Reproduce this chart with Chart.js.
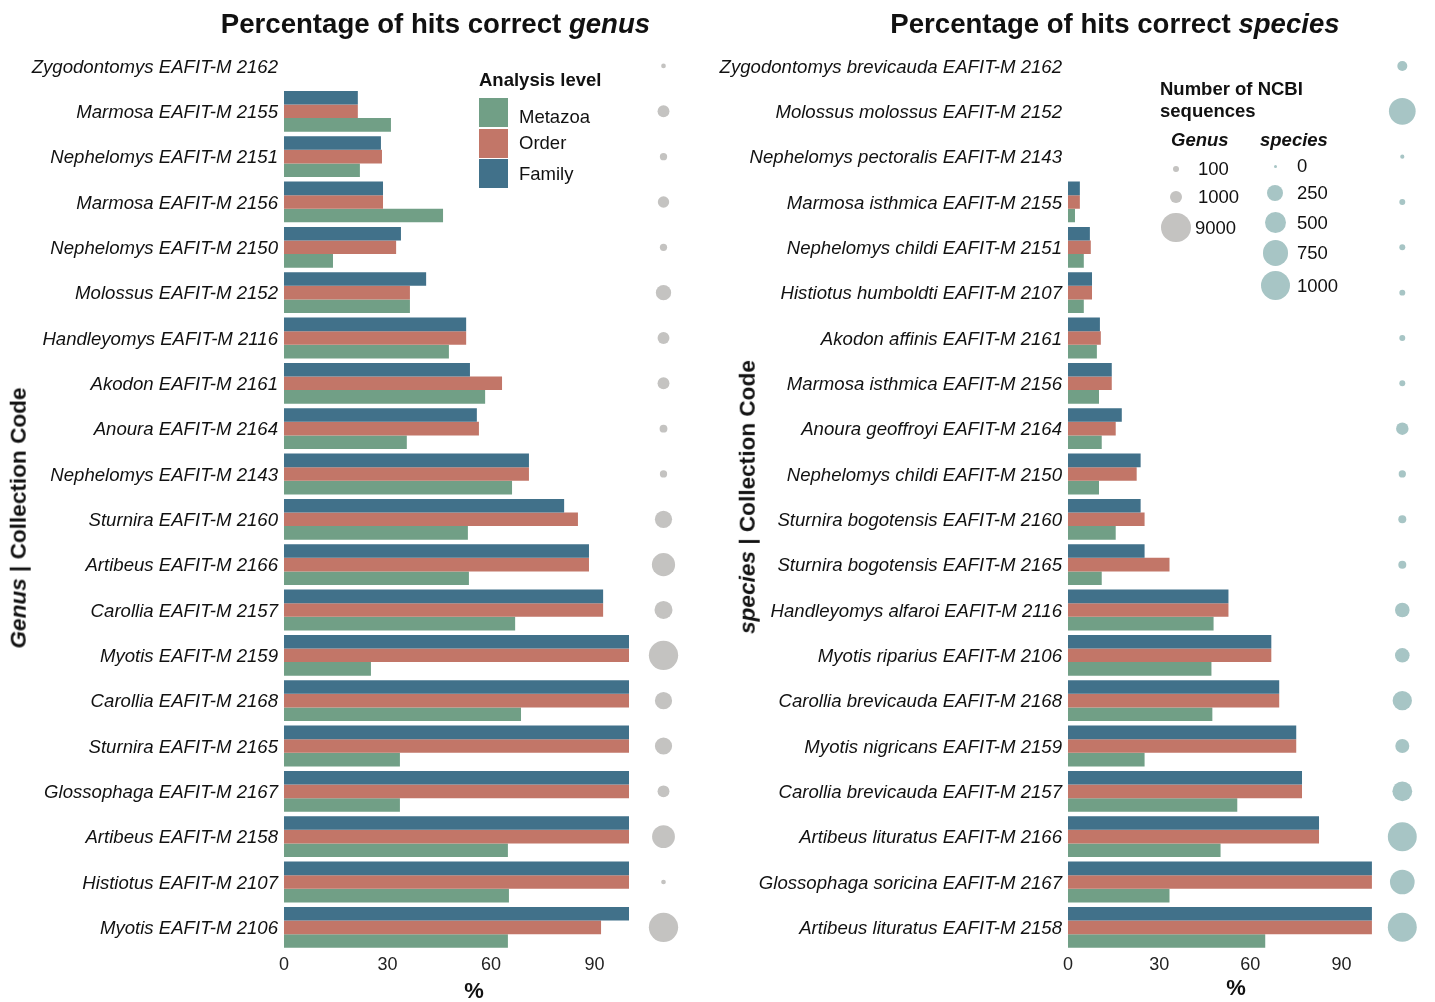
<!DOCTYPE html>
<html>
<head>
<meta charset="utf-8">
<title>Percentage of hits correct</title>
<script src="https://cdn.jsdelivr.net/npm/chart.js@4"></script>
<style>
  html, body { margin: 0; padding: 0; background: #fff; }
  #wrap { position: relative; width: 1435px; height: 1002px; overflow: hidden;
          font-family: "Liberation Sans", Arial, Helvetica, sans-serif; color: #111; }
  canvas { position: absolute; top: 0; }
  .txt { position: absolute; white-space: nowrap; line-height: 1; }
  .title { font-weight: bold; font-size: 27.6px; transform: translate(-50%, -50%); }
  .axt { font-weight: bold; font-size: 22.6px; transform: translate(-50%, -50%) rotate(-90deg); }
  .xt { font-weight: bold; font-size: 22px; transform: translate(-50%, -50%); }
  .lgh { font-weight: bold; font-size: 18.5px; transform: translateY(-50%); }
  .lgi { font-size: 18.5px; transform: translateY(-50%); }
  .sw { position: absolute; }
  .dot { position: absolute; border-radius: 50%; }
</style>
</head>
<body>
<div id="wrap">
  <canvas id="cGenus" width="700" height="1002" style="left:0;width:700px;height:1002px"></canvas>
  <canvas id="cSpecies" width="735" height="1002" style="left:700px;width:735px;height:1002px"></canvas>

  <div class="txt title" style="left:435.5px;top:24px">Percentage of hits correct <i>genus</i></div>
  <div class="txt title" style="left:1115px;top:24px">Percentage of hits correct <i>species</i></div>
  <div class="txt axt" style="left:19px;top:518px"><i>Genus</i> | Collection Code</div>
  <div class="txt axt" style="left:748px;top:497px"><i>species</i> | Collection Code</div>
  <div class="txt xt" style="left:474px;top:991px">%</div>
  <div class="txt xt" style="left:1236px;top:988px">%</div>
  <div id="legends"></div>
</div>

<script>
// ---- Genus-level results -------------------------------------------------
const genusLabels = [
  'Zygodontomys EAFIT-M 2162', 'Marmosa EAFIT-M 2155', 'Nephelomys EAFIT-M 2151',
  'Marmosa EAFIT-M 2156', 'Nephelomys EAFIT-M 2150', 'Molossus EAFIT-M 2152',
  'Handleyomys EAFIT-M 2116', 'Akodon EAFIT-M 2161', 'Anoura EAFIT-M 2164',
  'Nephelomys EAFIT-M 2143', 'Sturnira EAFIT-M 2160', 'Artibeus EAFIT-M 2166',
  'Carollia EAFIT-M 2157', 'Myotis EAFIT-M 2159', 'Carollia EAFIT-M 2168',
  'Sturnira EAFIT-M 2165', 'Glossophaga EAFIT-M 2167', 'Artibeus EAFIT-M 2158',
  'Histiotus EAFIT-M 2107', 'Myotis EAFIT-M 2106'
];
const genusFamily  = [0, 21.4, 28.1, 28.7, 33.9, 41.2, 52.8, 53.9, 55.9, 71.0, 81.2, 88.4, 92.5, 100, 100, 100, 100, 100, 100, 100];
const genusOrder   = [0, 21.4, 28.4, 28.7, 32.5, 36.5, 52.8, 63.2, 56.5, 71.0, 85.2, 88.4, 92.5, 100, 100, 100, 100, 100, 100, 91.9];
const genusMetazoa = [0, 31.0, 22.0, 46.1, 14.2, 36.5, 47.8, 58.3, 35.6, 66.1, 53.3, 53.6, 67.0, 25.2, 68.7, 33.6, 33.6, 64.9, 65.2, 64.9];
const genusNcbi    = [30, 1000, 220, 880, 220, 1950, 1000, 1000, 280, 220, 2600, 5300, 2900, 9000, 2600, 2600, 1000, 5100, 30, 9000];

// ---- Species-level results -----------------------------------------------
const speciesLabels = [
  'Zygodontomys brevicauda EAFIT-M 2162', 'Molossus molossus EAFIT-M 2152',
  'Nephelomys pectoralis EAFIT-M 2143', 'Marmosa isthmica EAFIT-M 2155',
  'Nephelomys childi EAFIT-M 2151', 'Histiotus humboldti EAFIT-M 2107',
  'Akodon affinis EAFIT-M 2161', 'Marmosa isthmica EAFIT-M 2156',
  'Anoura geoffroyi EAFIT-M 2164', 'Nephelomys childi EAFIT-M 2150',
  'Sturnira bogotensis EAFIT-M 2160', 'Sturnira bogotensis EAFIT-M 2165',
  'Handleyomys alfaroi EAFIT-M 2116', 'Myotis riparius EAFIT-M 2106',
  'Carollia brevicauda EAFIT-M 2168', 'Myotis nigricans EAFIT-M 2159',
  'Carollia brevicauda EAFIT-M 2157', 'Artibeus lituratus EAFIT-M 2166',
  'Glossophaga soricina EAFIT-M 2167', 'Artibeus lituratus EAFIT-M 2158'
];
const speciesFamily  = [0, 0, 0, 3.9, 7.2, 7.9, 10.5, 14.4, 17.7, 23.9, 23.9, 25.2, 52.8, 66.9, 69.5, 75.1, 77.0, 82.6, 100, 100];
const speciesOrder   = [0, 0, 0, 3.9, 7.5, 7.9, 10.8, 14.4, 15.7, 22.6, 25.2, 33.4, 52.8, 66.9, 69.5, 75.1, 77.0, 82.6, 100, 100];
const speciesMetazoa = [0, 0, 0, 2.3, 5.2, 5.2, 9.5, 10.2, 11.1, 10.2, 15.7, 11.1, 47.9, 47.2, 47.5, 25.2, 55.7, 50.2, 33.4, 64.9];
const speciesNcbi    = [73, 835, 2, 13, 13, 13, 13, 13, 134, 27, 37, 37, 200, 200, 395, 180, 420, 1000, 700, 1000];

// ---- Legend breaks and x ticks -------------------------------------------
const levelNames = ['Metazoa', 'Order', 'Family'];
const genusBreaks = [100, 1000, 9000];
const speciesBreaks = [0, 250, 500, 750, 1000];
const xTicks = [0, 30, 60, 90];

const COLORS = { Family: '#41718A', Order: '#C27668', Metazoa: '#719F86' };
const GENUS_DOT = '#C4C3C1';
const SPECIES_DOT = '#A7C5C5';
const FONT = '"Liberation Sans", Arial, Helvetica, sans-serif';
const DOT_COLUMN = 110;   // x position (in % units) of the sequence-count column

// point radius from sequence counts (area-based sizing)
const genusRadius = n => 1.6 + 0.1375 * Math.sqrt(n);
const speciesRadius = n => 1.5 + 0.41 * Math.sqrt(n);

function buildChart(canvasId, labels, fam, ord, met, counts, radiusFn, dotColor, yWidth, padRight) {
  const bar = (label, data) => ({
    type: 'bar', label, data, indexAxis: 'y',
    backgroundColor: COLORS[label], borderWidth: 0,
    categoryPercentage: 0.9, barPercentage: 1.0, order: 2
  });
  return new Chart(document.getElementById(canvasId), {
    data: {
      labels,
      datasets: [
        bar('Family', fam),
        bar('Order', ord),
        bar('Metazoa', met),
        {
          type: 'bubble', label: 'NCBI sequences', order: 1, clip: false,
          data: counts.map((n, i) => ({ x: DOT_COLUMN, y: labels[i], r: radiusFn(n) })),
          backgroundColor: dotColor, borderWidth: 0
        }
      ]
    },
    options: {
      responsive: false, animation: false, devicePixelRatio: 1, events: [],
      layout: { padding: { top: 43.3, bottom: 0, left: 0, right: padRight } },
      plugins: { legend: { display: false }, tooltip: { enabled: false } },
      scales: {
        x: {
          type: 'linear', min: 0, max: 116,
          grid: { display: false, drawTicks: false }, border: { display: false },
          afterBuildTicks: s => { s.ticks = xTicks.map(v => ({ value: v })); },
          afterFit: s => { s.height = 52; },
          ticks: { padding: 4, color: '#222', font: { family: FONT, size: 18 } }
        },
        y: {
          type: 'category', offset: true,
          grid: { display: false, drawTicks: false }, border: { display: false },
          afterFit: s => { s.width = yWidth; },
          ticks: { padding: 6, labelOffset: 1.5, color: '#111', autoSkip: false,
                   font: { family: FONT, size: 18.6, style: 'italic' } }
        }
      }
    }
  });
}

buildChart('cGenus', genusLabels, genusFamily, genusOrder, genusMetazoa,
           genusNcbi, genusRadius, GENUS_DOT, 284, 15.8);
buildChart('cSpecies', speciesLabels, speciesFamily, speciesOrder, speciesMetazoa,
           speciesNcbi, speciesRadius, SPECIES_DOT, 368, 13.2);

// ---- Legends -------------------------------------------------------------
const lg = document.getElementById('legends');
function addText(cls, html, left, top) {
  const d = document.createElement('div');
  d.className = 'txt ' + cls; d.innerHTML = html;
  d.style.left = left + 'px'; d.style.top = top + 'px';
  lg.appendChild(d);
}
function addDot(cx, cy, r, color) {
  const d = document.createElement('div');
  d.className = 'dot';
  Object.assign(d.style, { left: (cx - r) + 'px', top: (cy - r) + 'px',
    width: 2 * r + 'px', height: 2 * r + 'px', background: color });
  lg.appendChild(d);
}

// Analysis level
addText('lgh', 'Analysis level', 479, 80);
const swTops = [98.3, 129, 159];
const swLabelY = [116.7, 142.7, 174];
levelNames.forEach((name, i) => {
  const s = document.createElement('div');
  s.className = 'sw';
  Object.assign(s.style, { left: '479px', top: swTops[i] + 'px', width: '29px',
    height: '28.7px', background: COLORS[name] });
  lg.appendChild(s);
  addText('lgi', name, 519, swLabelY[i]);
});

// Number of NCBI sequences
addText('lgh', 'Number of NCBI', 1160, 89);
addText('lgh', 'sequences', 1160, 111);
addText('lgh', '<i>Genus</i>', 1171, 140);
addText('lgh', '<i>species</i>', 1260, 140);
const gY = [169, 197, 227.5];
const gLabX = [1198, 1198, 1195];
genusBreaks.forEach((v, i) => {
  addDot(1176, gY[i], genusRadius(v), GENUS_DOT);
  addText('lgi', String(v), gLabX[i], gY[i]);
});
const sY = [166, 193, 222.5, 253, 285.5];
speciesBreaks.forEach((v, i) => {
  addDot(1275.3, sY[i], speciesRadius(v), SPECIES_DOT);
  addText('lgi', String(v), 1297, sY[i]);
});
</script>
</body>
</html>
